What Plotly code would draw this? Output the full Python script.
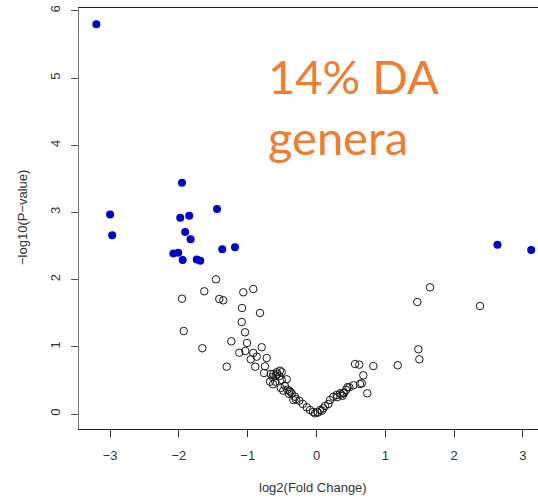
import plotly.graph_objects as go

# Significant (DA) genera: log2 fold change, -log10 p-value
sig_fc = [-3.20, -3.00, -2.97, -1.955, -1.446, -1.98, -1.85, -1.91, -1.83,
          -2.08, -2.01, -1.945, -1.74, -1.69, -1.37, -1.185, 2.63, 3.12]
sig_p = [5.80, 2.97, 2.66, 3.44, 3.05, 2.92, 2.95, 2.71, 2.60,
         2.39, 2.40, 2.29, 2.30, 2.28, 2.45, 2.48, 2.52, 2.44]

# Non-significant genera
ns_fc = [-1.461, -1.631, -1.955, -1.413, -1.355, -1.064, -0.919, -1.083, -0.821,
         -1.087, -1.039, -1.930, -1.238, -1.010, -1.660, -1.122, -1.035, -0.919,
         -0.797, -0.869, -0.956, -0.724, -1.305, -0.890, -0.749, -0.763, -0.628,
         -0.578, -0.531, -0.570, -0.593, -0.666, -0.637, -0.506, -0.433, -0.599,
         -0.676, -0.632, -0.541, -0.506, -0.520, -0.483, -0.395, -0.360, -0.313,
         -0.337, -0.250, -0.424, -0.142, -0.094, -0.022, 0.012, 0.051, 0.099,
         0.124, 0.172, 0.196, 0.244, 0.294, 0.342, 0.390, 0.429, 0.477, 0.535,
         0.632, 0.560, 0.622, 0.826, 0.680, 0.657, 0.738, 1.180, 1.480, 1.494,
         1.465, 1.650, 2.376, -0.40, -0.38, 0.36, 0.40, 0.38, -0.20, -0.05,
         0.02, 0.08, 0.30, 0.45, -0.46, -0.30]
ns_p = [2.004, 1.826, 1.716, 1.711, 1.692, 1.811, 1.860, 1.577, 1.503,
        1.369, 1.216, 1.235, 1.082, 1.057, 0.978, 0.912, 0.938, 0.908,
        0.993, 0.853, 0.814, 0.833, 0.704, 0.704, 0.710, 0.610, 0.595,
        0.621, 0.644, 0.595, 0.565, 0.595, 0.551, 0.621, 0.516, 0.481,
        0.481, 0.442, 0.565, 0.506, 0.387, 0.347, 0.347, 0.308, 0.257,
        0.208, 0.198, 0.362, 0.100, 0.060, 0.010, 0.030, 0.060, 0.085,
        0.119, 0.149, 0.208, 0.257, 0.283, 0.308, 0.317, 0.357, 0.397, 0.427,
        0.446, 0.744, 0.734, 0.714, 0.576, 0.457, 0.308, 0.725, 0.963, 0.814,
        1.667, 1.885, 1.607, 0.30, 0.33, 0.29, 0.31, 0.27, 0.15, 0.03,
        0.02, 0.05, 0.25, 0.40, 0.42, 0.22]

x_ticks = [-3, -2, -1, 0, 1, 2, 3]
y_ticks = [0, 1, 2, 3, 4, 5, 6]

W, H = 538, 500
L, R, T, B = 79, 0, 8, 71
pw, ph = W - L - R, H - T - B

def px_x(p):
    return (p - L) / pw

def px_y(p):
    return (H - B - p) / ph

fig = go.Figure()
fig.add_trace(go.Scatter(
    x=ns_fc, y=ns_p, mode="markers",
    marker=dict(symbol="circle-open", size=7.5, color="#1a1a1a", line=dict(width=1)),
    showlegend=False, hoverinfo="skip"))
fig.add_trace(go.Scatter(
    x=sig_fc, y=sig_p, mode="markers",
    marker=dict(symbol="circle", size=8, color="#0000c8", line=dict(width=0)),
    showlegend=False, hoverinfo="skip"))

axis_font = dict(family="Liberation Sans, Arial, sans-serif", size=13, color="#333")

fig.update_layout(
    width=W, height=H,
    margin=dict(l=L, r=R, t=T, b=B),
    paper_bgcolor="white", plot_bgcolor="white",
    xaxis=dict(range=[-3.452, 3.219], tickvals=x_ticks, ticks="outside", ticklen=7,
               tickcolor="#333", tickwidth=1, showgrid=False, zeroline=False,
               showline=True, linecolor="#222", linewidth=1, mirror=True,
               tickfont=axis_font, ticklabelstandoff=7),
    yaxis=dict(range=[-0.2232, 6.0417], tickvals=y_ticks, ticks="outside", ticklen=7,
               tickcolor="#555", tickwidth=1, showgrid=False, zeroline=False,
               showline=True, linecolor="#777", linewidth=1, mirror=False,
               tickangle=-90, tickfont=axis_font, ticklabelstandoff=6),
    annotations=[
        dict(text="log2(Fold Change)", xref="paper", yref="paper",
             x=px_x(313), y=px_y(487), xanchor="center", yanchor="middle",
             showarrow=False, font=axis_font),
        dict(text="−log10(P−value)", xref="paper", yref="paper",
             x=px_x(22), y=px_y(218), xanchor="center", yanchor="middle",
             textangle=-90, showarrow=False, font=axis_font),
        dict(text="14% DA<br>genera", xref="paper", yref="paper",
             x=px_x(266), y=px_y(46), xanchor="left", yanchor="top", align="left",
             showarrow=False,
             font=dict(family="Lato, Open Sans, sans-serif", size=47, color="#ED7D31")),
    ],
)

fig.write_html("out.html")
